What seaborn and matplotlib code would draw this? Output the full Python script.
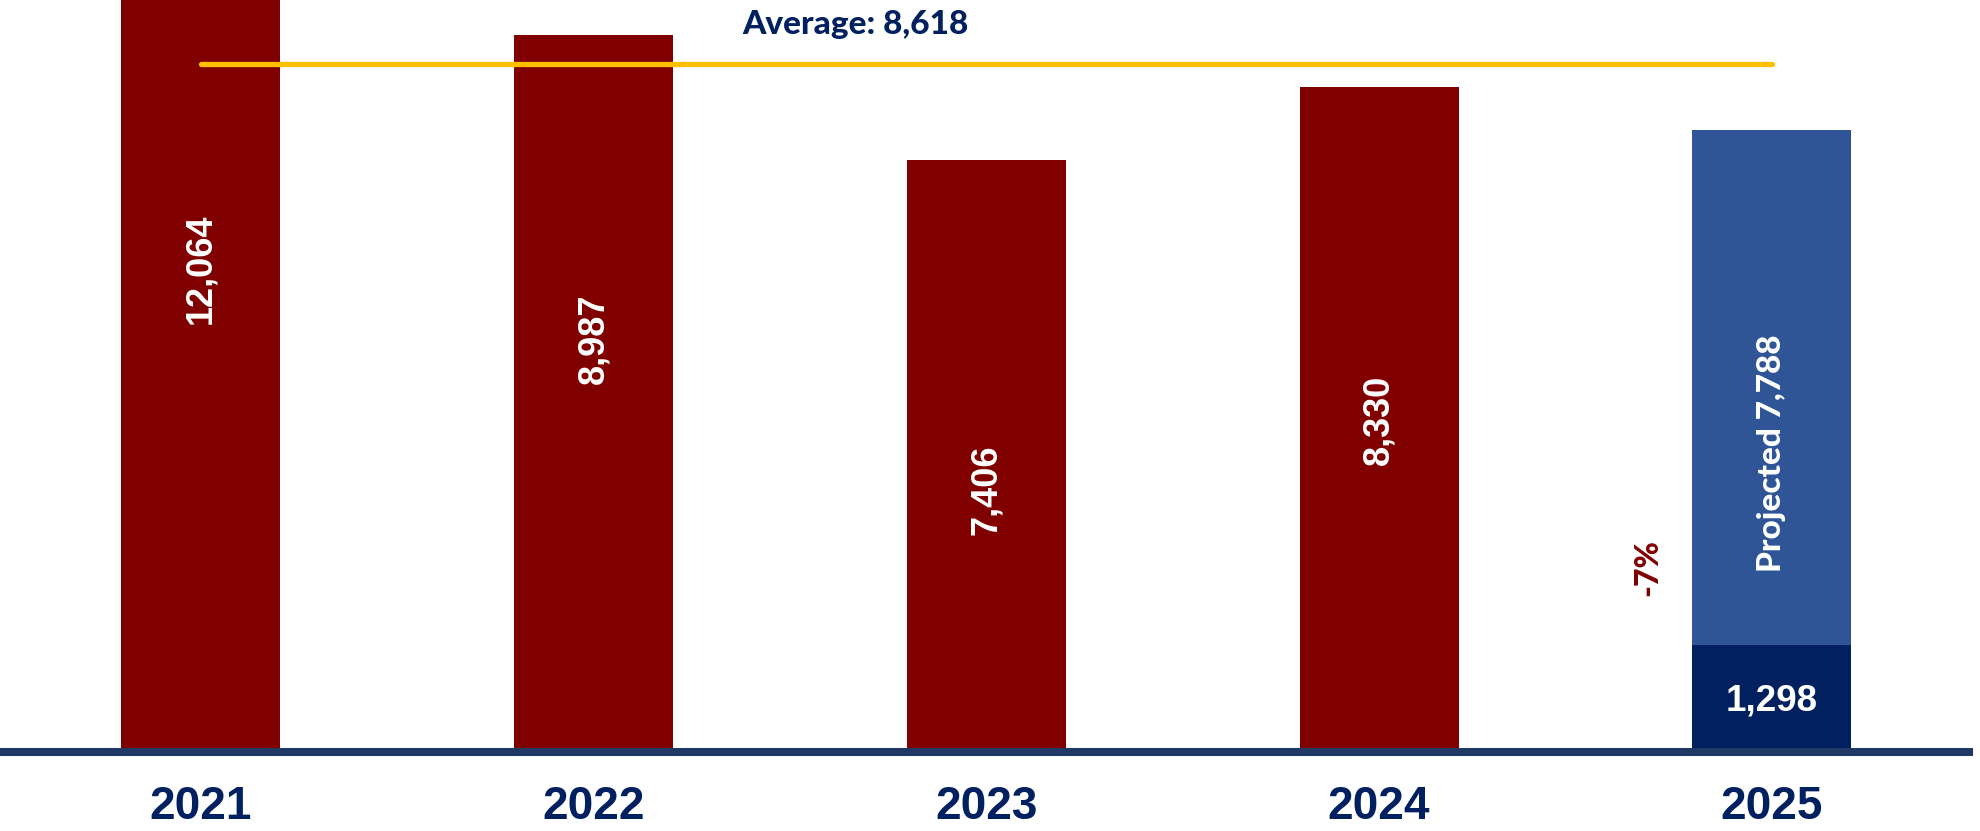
import matplotlib
matplotlib.use("Agg")
import matplotlib.pyplot as plt
import seaborn as sns
import pandas as pd

# Yearly totals (2025 is a projection; the dark segment is year-to-date)
years = ["2021", "2022", "2023", "2024", "2025"]
totals = [12064, 8987, 7406, 8330, 7788]
ytd_2025 = 1298
average = 8618
bar_colors = ["#800000", "#800000", "#800000", "#800000", "#2F5597"]
ytd_color = "#002060"
navy = "#002060"

# vertical position of each in-bar label, as a share of its bar height
label_share = [0.50, 0.573, 0.44, 0.496, 0.476]

sns.set_theme(style="white")
plt.rcParams["font.family"] = ["Liberation Sans", "DejaVu Sans"]

fig = plt.figure(figsize=(19.8, 8.31), dpi=100)
ax = fig.add_axes([3 / 1980, 79 / 831, 1966 / 1980, 752 / 831])

df = pd.DataFrame({"year": years, "total": totals})
sns.barplot(data=df, x="year", y="total", hue="year", order=years,
            palette=dict(zip(years, bar_colors)), saturation=1,
            width=0.405, legend=False, linewidth=0, ax=ax)
sns.barplot(x=[years[-1]], y=[ytd_2025], order=years, color=ytd_color,
            saturation=1, width=0.405, linewidth=0, ax=ax)

ax.set_xlim(-0.504, 4.502)
ax.set_ylim(-50, 9422)
ax.set_xlabel("")
ax.set_ylabel("")
ax.set_yticks([])
for side in ("left", "right", "top"):
    ax.spines[side].set_visible(False)
ax.spines["bottom"].set_color("#203864")
ax.spines["bottom"].set_linewidth(5.8)
ax.spines["bottom"].set_zorder(5)
ax.tick_params(axis="x", length=0, pad=24)
for lab in ax.get_xticklabels():
    lab.set_fontsize(33)
    lab.set_fontweight("bold")
    lab.set_color(navy)

# Average line across the years
ax.plot([0, 4], [average, average], color="#FFC000", linewidth=3.8,
        solid_capstyle="round", zorder=4)
ax.text(1.666, 9000, f"Average: {average:,}", ha="center", va="baseline",
        fontsize=24, fontweight="black", color=navy, family="Lato")

# Value labels inside the bars
for i, (v, s) in enumerate(zip(totals[:-1], label_share[:-1])):
    ax.text(i, v * s, f"{v:,}", rotation=90, ha="center", va="center",
            fontsize=26, fontweight="bold", color="white", zorder=6)
ax.text(4, totals[-1] * label_share[-1], f"Projected {totals[-1]:,}",
        rotation=90, ha="center", va="center", fontsize=24,
        fontweight="black", color="white", family="Lato", zorder=6)
ax.text(4, 592, f"{ytd_2025:,}", ha="center", va="center", fontsize=26.5,
        fontweight="bold", color="white", zorder=6)

# Change from 2024 to projected 2025
change = round((totals[-1] / totals[-2] - 1) * 100)
ax.text(3.685, 2267, f"{change}%", rotation=90, ha="center", va="center",
        fontsize=23, fontweight="black", color="#800000", family="Lato")

fig.savefig("out.png", dpi=100, facecolor="white")
